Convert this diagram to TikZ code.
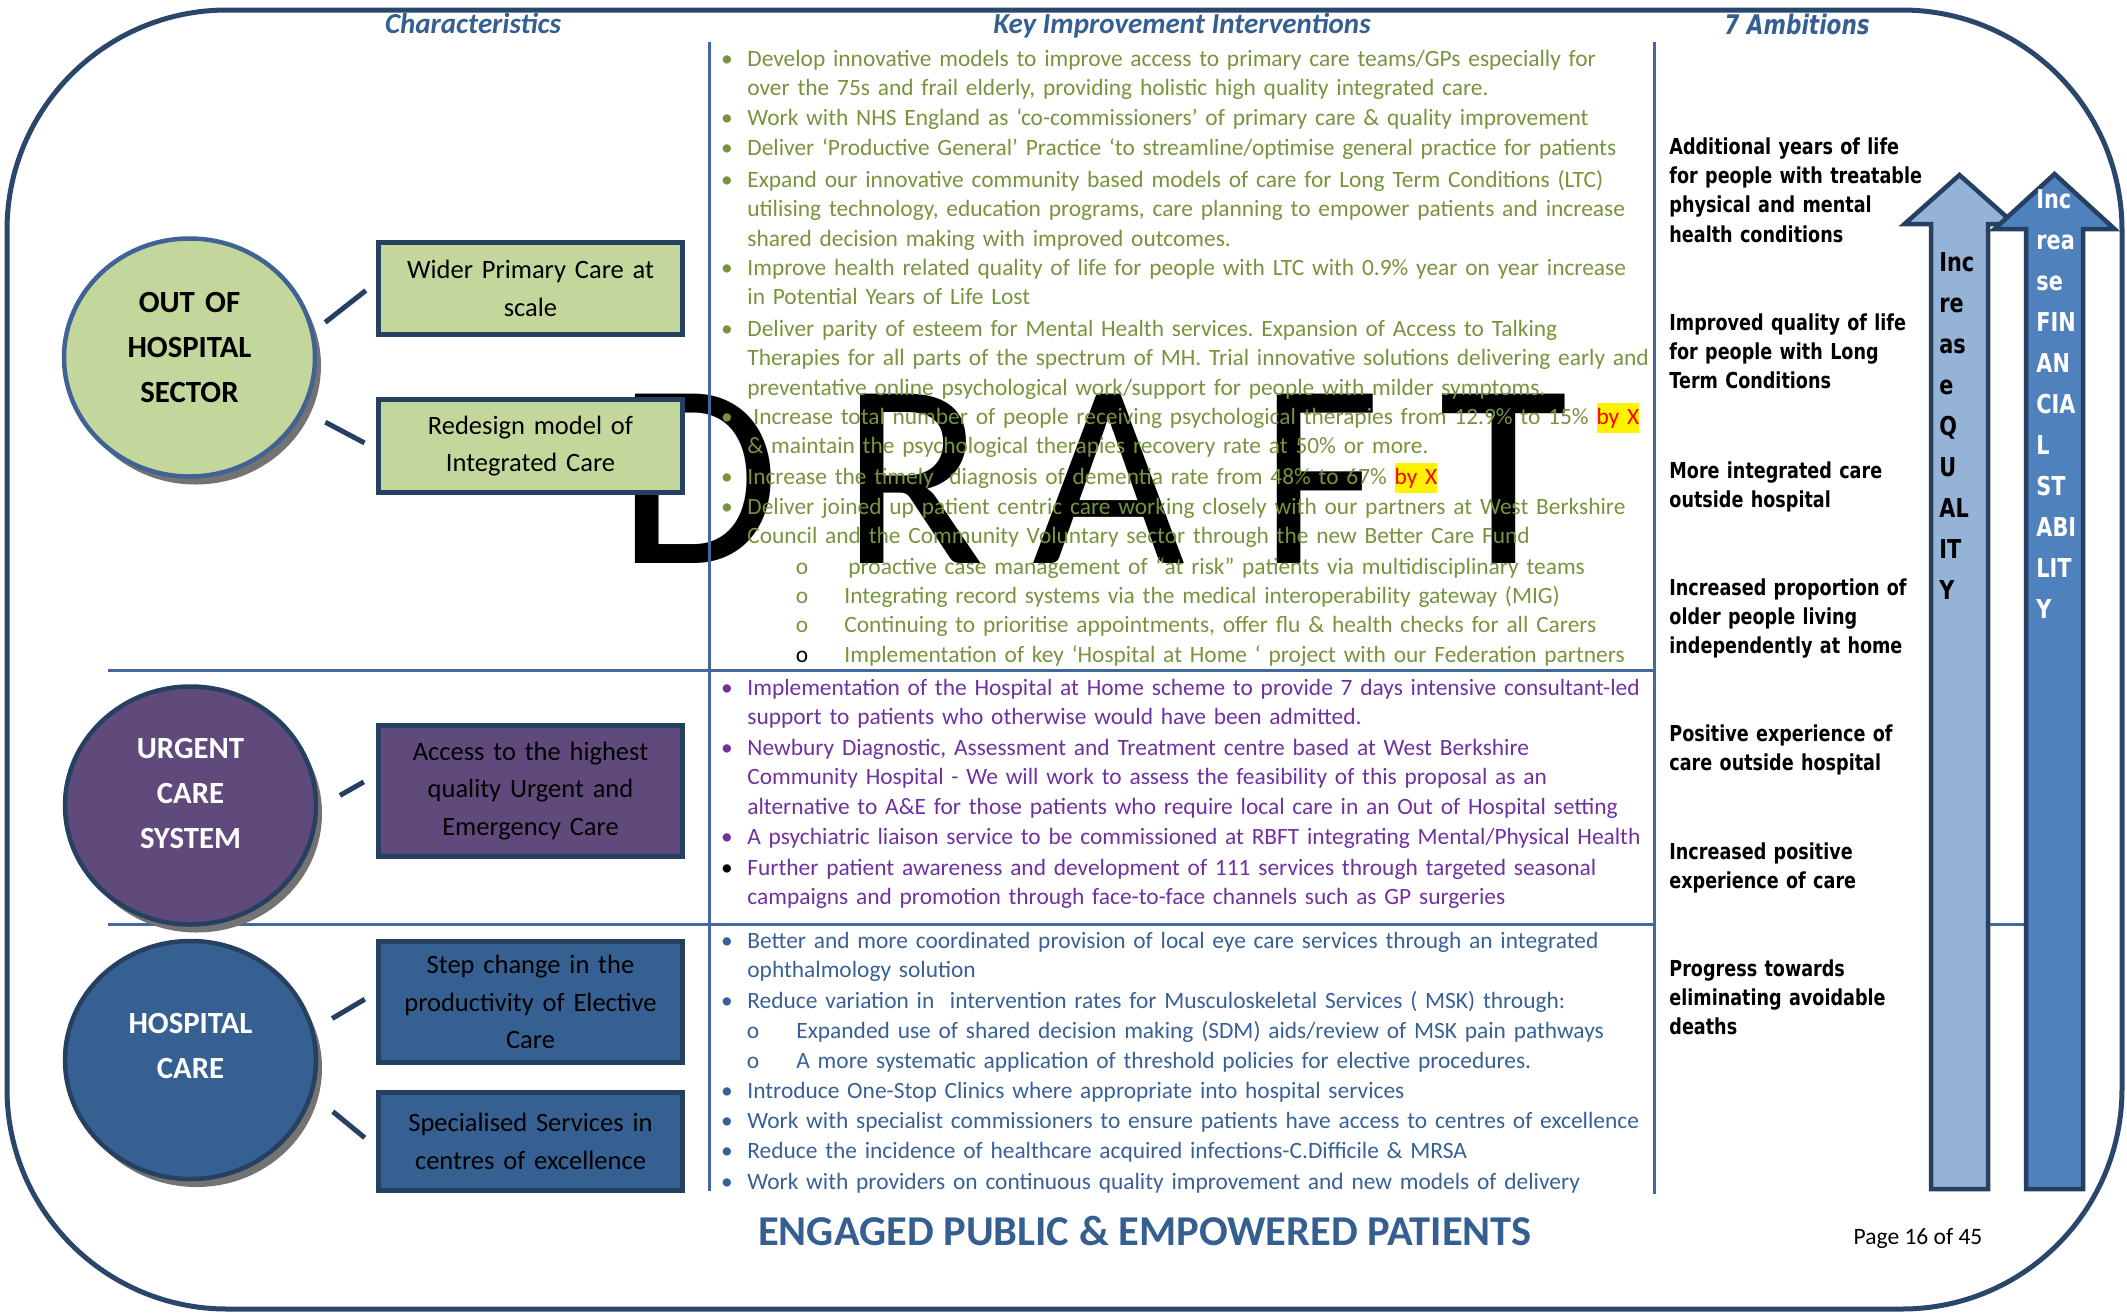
\documentclass[tikz,border=0pt]{standalone}
\usepackage{fontspec}
\setmainfont{Carlito}
\newfontfamily\verd{DejaVu Sans}[FakeStretch=0.8]
\usetikzlibrary{shapes.geometric, shadows}
\frenchspacing

\definecolor{navy}{RGB}{38,64,98}
\definecolor{framec}{RGB}{42,70,106}
\definecolor{rulec}{RGB}{66,104,158}
\definecolor{hdblue}{RGB}{54,95,145}
\definecolor{oohfill}{RGB}{195,214,155}
\definecolor{oohedge}{RGB}{64,98,148}
\definecolor{ucsfill}{RGB}{96,74,123}
\definecolor{hcfill}{RGB}{54,96,146}
\definecolor{grn}{RGB}{119,147,60}
\definecolor{purp}{RGB}{112,48,160}
\definecolor{blu}{RGB}{55,96,150}
\definecolor{qarrow}{RGB}{149,179,215}
\definecolor{farrow}{RGB}{79,129,189}

\newcommand\hlx[1]{{\setlength\fboxsep{0pt}\colorbox{yellow}{\color{red}\strut #1}}}

\begin{document}
\begin{tikzpicture}[x=0.5pt, y=-0.5pt,
  every node/.style={inner sep=0pt},
  head/.style={anchor=base, text=hdblue, font=\fontsize{14.5}{17}\selectfont\bfseries\itshape},
  draft/.style={anchor=base, font=\fontsize{132}{132}\selectfont},
  sep/.style={rulec, line width=1.5pt},
  sector/.style={ellipse, draw=navy, line width=2.25pt, minimum width=125.5pt,
                 minimum height=119pt,
                 drop shadow={shadow xshift=3pt, shadow yshift=-4pt, fill=black!55, opacity=1}},
  sectortext/.style={text width=120pt, align=center,
                     font=\fontsize{15.4}{22.5}\selectfont\bfseries},
  card/.style={draw=navy, line width=2.5pt, minimum width=152pt, text width=145pt,
               align=center, font=\fontsize{13.25}{18.75}\selectfont},
  link/.style={navy, line width=2.5pt},
  item/.style={anchor=base west, text width=520pt, align=left,
               font=\fontsize{11.7}{14.75}\selectfont},
  bul/.style={anchor=base, font=\fontsize{11.7}{14.75}\selectfont},
  amb/.style={anchor=base west, text width=200pt, align=left,
              font=\verd\bfseries\fontsize{11}{14.7}\selectfont},
  arrowbody/.style={draw=navy, line width=2.25pt},
  arrowtext/.style={anchor=base west, text width=40pt, align=left,
                    font=\verd\bfseries\fontsize{13}{20.5}\selectfont}]
\useasboundingbox (0,0) rectangle (2127,1313);

\draw[framec, line width=2.5pt, rounded corners=110pt] (7,10) rectangle (2122,1309);

% watermark
\foreach \l/\x in {D/699, R/913, A/1109, F/1320, T/1504}
  \node[draft] (draft\l) at (\x,563) {\l};

\draw[sep] (709,42) -- (709,1191);
\draw[sep] (1654,42) -- (1654,1194);
\draw[sep] (108,670) -- (1654,670);
\draw[sep] (108,924) -- (1654,924);

\node[head] (hchar) at (473,33) {Characteristics};
\node[head] (hkey) at (1182,33) {Key Improvement Interventions};
\node[head, font=\verd\bfseries\itshape\fontsize{13.5}{16}\selectfont] (hamb) at (1797,34.5) {7 Ambitions};

% sectors
\node[sector, draw=oohedge, fill=oohfill] (ooh) at (189.5,357.5) {};
\node[sectortext] (oohtxt) at ([yshift=5pt]ooh.center) {OUT OF\\HOSPITAL\\SECTOR};
\node[sector, fill=ucsfill] (ucs) at (190.5,805.5) {};
\node[sectortext, text=white] (ucstxt) at ([yshift=6pt]ucs.center) {URGENT\\CARE\\SYSTEM};
\node[sector, fill=hcfill] (hc) at (190.5,1060) {};
\node[sectortext, text=white] (hctxt) at ([yshift=7pt]hc.center) {HOSPITAL\\CARE};

\node[card, fill=oohfill, minimum height=46pt] (wpc) at (530.5,288.5) {Wider Primary Care at\\scale};
\node[card, fill=oohfill, minimum height=46.5pt] (rmic) at (530.5,446) {Redesign model of\\Integrated Care};
\node[card, fill=ucsfill, minimum height=65.5pt] (acc) at (530.5,791) {Access to the highest\\quality Urgent and\\Emergency Care};
\node[card, fill=hcfill, minimum height=60.5pt] (step) at (530.5,1002) {Step change in the\\productivity of Elective\\Care};
\node[card, fill=hcfill, minimum height=49pt] (spec) at (530.5,1141.5) {Specialised Services in\\centres of excellence};

\draw[link, shorten <=7pt, shorten >=6.5pt] (ooh.12) -- ([yshift=3pt]wpc.west);
\draw[link, shorten <=12pt, shorten >=6.5pt] (ooh.-25) -- ([yshift=-1.5pt]rmic.west);
\draw[link, shorten <=12.5pt, shorten >=7pt] (ucs.-1) -- ([yshift=8pt]acc.west);
\draw[link, shorten <=10.5pt, shorten >=6.5pt] (hc.14) -- ([yshift=4.7pt]step.west);
\draw[link, shorten <=13pt, shorten >=7.3pt] (hc.-16) -- ([yshift=-2.75pt]spec.west);

% out of hospital interventions
\foreach \y in {66,125,155,187,275,336,424,484,514}
  \node[bul, text=grn] (gb\y) at (727,\y) {\textbullet};
\foreach \y in {574,603,632}
  \node[bul, text=grn] (gs\y) at (802,\y) {o};
\node[bul] (gs662) at (802,662) {o};

\node[item, text=grn] (g1) at (747,66) {Develop innovative models to improve access to primary care teams/GPs especially for\\over the 75s and frail elderly, providing holistic high quality integrated care.};
\node[item, text=grn] (g2) at (747,125) {Work with NHS England as ‘co-commissioners’ of primary care \& quality improvement};
\node[item, text=grn] (g3) at (747,155) {Deliver ‘Productive General’ Practice ‘to streamline/optimise general practice for patients};
\node[item, text=grn] (g4) at (747,187) {Expand our innovative community based models of care for Long Term Conditions (LTC)\\utilising technology, education programs, care planning to empower patients and increase\\shared decision making with improved outcomes.};
\node[item, text=grn] (g5) at (747,275) {Improve health related quality of life for people with LTC with 0.9\% year on year increase\\in Potential Years of Life Lost};
\node[item, text=grn] (g6) at (747,336) {Deliver parity of esteem for Mental Health services. Expansion of Access to Talking\\Therapies for all parts of the spectrum of MH. Trial innovative solutions delivering early and\\preventative online psychological work/support for people with milder symptoms.};
\node[item, text=grn] (g7) at (747,424) {\hspace*{3pt}Increase total number of people receiving psychological therapies from 12.9\% to 15\% \hlx{by X}\\\& maintain the psychological therapies recovery rate at 50\% or more.};
\node[item, text=grn] (g8) at (747,484) {Increase the timely \ diagnosis of dementia rate from 48\% to 67\% \hlx{by X}};
\node[item, text=grn] (g9) at (747,514) {Deliver joined up patient centric care working closely with our partners at West Berkshire\\Council and the Community Voluntary sector through the new Better Care Fund};
\node[item, text=grn] (g10) at (848,574) {proactive case management of “at risk” patients via multidisciplinary teams};
\node[item, text=grn] (g11) at (844,603) {Integrating record systems via the medical interoperability gateway (MIG)};
\node[item, text=grn] (g12) at (844,632) {Continuing to prioritise appointments, offer flu \& health checks for all Carers};
\node[item, text=grn] (g13) at (844,662) {Implementation of key ‘Hospital at Home ‘ project with our Federation partners};

% urgent care interventions
\foreach \y in {695,755,844}
  \node[bul, text=purp] (pb\y) at (727,\y) {\textbullet};
\node[bul] (pb875) at (727,875) {\textbullet};

\node[item, text=purp] (p1) at (747,695) {Implementation of the Hospital at Home scheme to provide 7 days intensive consultant-led\\support to patients who otherwise would have been admitted.};
\node[item, text=purp] (p2) at (747,755) {Newbury Diagnostic, Assessment and Treatment centre based at West Berkshire\\Community Hospital - We will work to assess the feasibility of this proposal as an\\alternative to A\&E for those patients who require local care in an Out of Hospital setting};
\node[item, text=purp] (p3) at (747,844) {A psychiatric liaison service to be commissioned at RBFT integrating Mental/Physical Health};
\node[item, text=purp] (p4) at (747,875) {Further patient awareness and development of 111 services through targeted seasonal\\campaigns and promotion through face-to-face channels such as GP surgeries};

% hospital care interventions
\foreach \y in {948,1008,1098,1128,1158,1189}
  \node[bul, text=blu] (bb\y) at (727,\y) {\textbullet};
\foreach \y in {1038,1068}
  \node[bul, text=blu] (bs\y) at (753,\y) {o};

\node[item, text=blu] (b1) at (747,948) {Better and more coordinated provision of local eye care services through an integrated\\ophthalmology solution};
\node[item, text=blu] (b2) at (747,1008) {Reduce variation in \ intervention rates for Musculoskeletal Services ( MSK) through:};
\node[item, text=blu] (b3) at (796,1038) {Expanded use of shared decision making (SDM) aids/review of MSK pain pathways};
\node[item, text=blu] (b4) at (796,1068) {A more systematic application of threshold policies for elective procedures.};
\node[item, text=blu] (b5) at (747,1098) {Introduce One-Stop Clinics where appropriate into hospital services};
\node[item, text=blu] (b6) at (747,1128) {Work with specialist commissioners to ensure patients have access to centres of excellence};
\node[item, text=blu] (b7) at (747,1158) {Reduce the incidence of healthcare acquired infections-C.Difficile \& MRSA};
\node[item, text=blu] (b8) at (747,1189) {Work with providers on continuous quality improvement and new models of delivery};

% ambitions
\node[amb] (amb1) at (1669,154) {Additional years of life\\for people with treatable\\physical and mental\\health conditions};
\node[amb] (amb2) at (1669,330) {Improved quality of life\\for people with Long\\Term Conditions};
\node[amb] (amb3) at (1669,478) {More integrated care\\outside hospital};
\node[amb] (amb4) at (1669,595) {Increased proportion of\\older people living\\independently at home};
\node[amb] (amb5) at (1669,741) {Positive experience of\\care outside hospital};
\node[amb] (amb6) at (1669,859) {Increased positive\\experience of care};
\node[amb] (amb7) at (1669,976) {Progress towards\\eliminating avoidable\\deaths};

\draw[arrowbody, fill=qarrow] (1931,1189) -- (1931,224) -- (1904.5,224) -- (1959.5,175)
  -- (2014.5,224) -- (1988,224) -- (1988,1189) -- cycle;
\draw[sep] (1990,924) -- (2024,924);
\draw[arrowbody, fill=farrow] (2026,1189) -- (2026,229) -- (1994.5,229) -- (2054.5,174)
  -- (2114.5,229) -- (2083,229) -- (2083,1189) -- cycle;

\node[arrowtext] (quality) at (1939,271) {Inc\\re\\as\\e\\Q\\U\\AL\\IT\\Y};
\node[arrowtext, text=white] (finance) at (2036,208) {Inc\\rea\\se\\FIN\\AN\\CIA\\L\\ST\\ABI\\LIT\\Y};

\node[anchor=base, text=hdblue, font=\fontsize{21.25}{25}\selectfont\bfseries] (engaged) at (1145,1245) {ENGAGED PUBLIC \& EMPOWERED PATIENTS};
\node[anchor=base, font=\fontsize{11.75}{14}\selectfont] (page) at (1918,1244) {Page 16 of 45};
\end{tikzpicture}
\end{document}
